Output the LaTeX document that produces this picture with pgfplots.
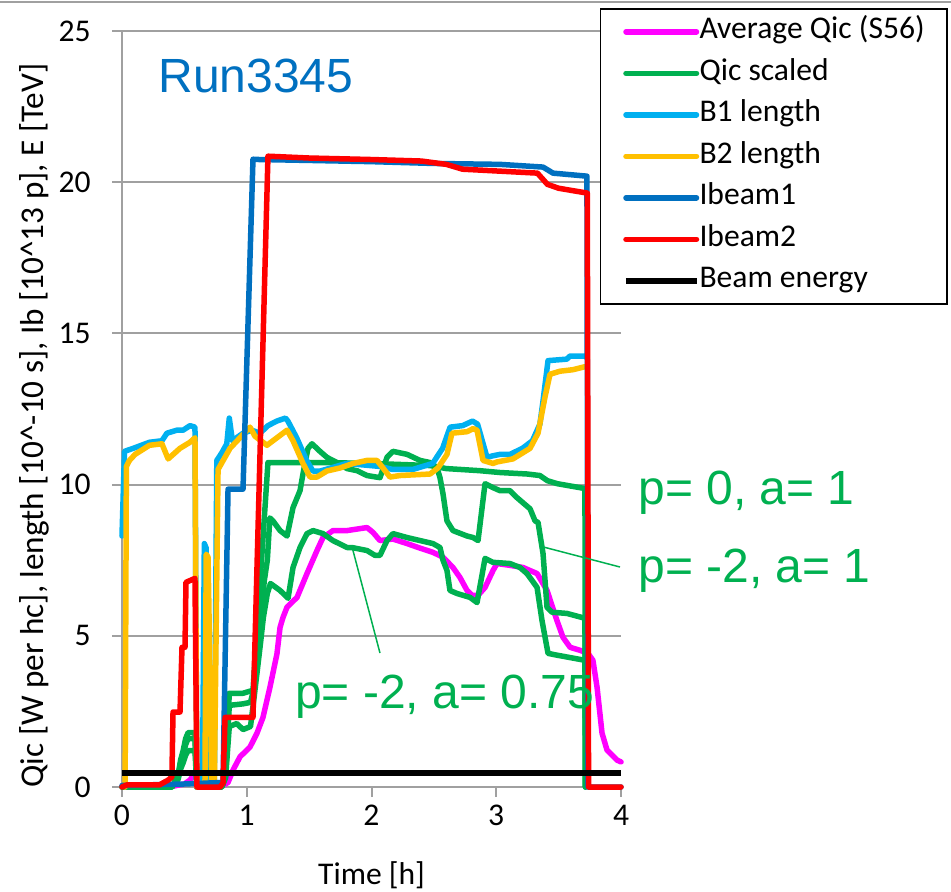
\documentclass[border=0pt]{standalone}
\usepackage{fontspec}
\setmainfont{Carlito}
\newfontfamily\arial{Liberation Sans}
\usepackage{pgfplots}
\pgfplotsset{compat=1.18}
\definecolor{cMag}{HTML}{FF00FF}
\definecolor{cGreen}{HTML}{00B050}
\definecolor{cLBlue}{HTML}{00B0F0}
\definecolor{cOrange}{HTML}{FFC000}
\definecolor{cDBlue}{HTML}{0070C0}
\definecolor{cRed}{HTML}{FF0000}
\definecolor{cGrid}{HTML}{A0A0A0}
\begin{document}
\fontsize{15.8}{19}\selectfont
\begin{tikzpicture}
\begin{axis}[
  at={(0,0)}, anchor=south west,
  scale only axis, width=249.5pt, height=378pt,
  xmin=0, xmax=4, ymin=0, ymax=25,
  axis x line*=bottom, axis y line*=left,
  axis line style={cGrid, line width=1pt},
  xtick={0,1,2,3,4}, ytick={0,5,10,15,20,25},
  tick align=outside, major tick length=5pt,
  tick style={cGrid, line width=1pt},
  ymajorgrids, grid style={cGrid, line width=1pt},
  /pgf/number format/assume math mode=true,
  yticklabel style={anchor=east, inner sep=0pt, xshift=-10.5pt},
  xticklabel style={anchor=north, inner sep=0pt, yshift=-4pt},
  xlabel={Time [h]},
  ylabel={Qic [W per hc], length [10\textasciicircum-10 s], Ib [10\textasciicircum13 p], E [TeV]},
  xlabel style={at={(axis description cs:0.5,0)}, anchor=base, yshift=-48.5pt, inner sep=0pt},
  ylabel style={at={(axis description cs:-0.1583,0.478)}, anchor=base, rotate=0, inner sep=0pt, font=\fontsize{16.6}{19}\selectfont},
  clip=false,
  every axis plot/.append style={line width=2.75pt, line join=round, line cap=round},
  legend style={at={(1.655,1.0304)}, anchor=north east, draw=black, line width=0.75pt,
    fill=white, inner xsep=11.25pt, inner ysep=4pt, row sep=5.75pt,
    nodes={inner sep=0pt, text height=11pt, text depth=4pt}},
  legend cell align=left,
  legend image code/.code={\path (0pt,0pt) -- (35.25pt,0pt);
    \draw[#1] (6.25pt,0pt) -- (32.75pt,0pt);},
]
% Average Qic (S56)
\addplot[cMag] coordinates {(0,0.02) (0.4,0.02) (0.5,0.1) (0.545,0.23) (0.6,0.55) (0.63,0.6) (0.66,0.3) (0.7,0.1) (0.82,0.08) (0.85,0.15) (0.89,0.56) (0.946,1.0) (1.026,1.32) (1.082,1.78) (1.13,2.3) (1.186,3.3) (1.242,4.4) (1.267,5.28) (1.29,5.6) (1.323,5.95) (1.403,6.27) (1.483,7.06) (1.563,7.82) (1.611,8.25) (1.691,8.48) (1.804,8.48) (1.964,8.58) (2.012,8.42) (2.068,8.15) (2.172,8.2) (2.285,8.05) (2.389,7.9) (2.493,7.76) (2.573,7.6) (2.653,7.26) (2.709,6.93) (2.766,6.5) (2.806,6.34) (2.854,6.34) (2.91,6.6) (2.974,7.16) (3.006,7.39) (3.11,7.33) (3.214,7.26) (3.327,7.06) (3.407,6.5) (3.487,5.5) (3.535,4.95) (3.592,4.62) (3.672,4.52) (3.735,4.42) (3.775,4.19) (3.808,3.3) (3.848,1.78) (3.888,1.22) (3.968,0.89) (4.0,0.83)};
\addlegendentry{Average Qic (S56)}
% Qic scaled p=0, a=1
\addplot[cGreen] coordinates {(0,0) (0.4,0) (0.45,0.4) (0.47,0.9) (0.49,1.2) (0.51,1.6) (0.53,1.8) (0.585,1.8) (0.6,0) (0.8,0) (0.83,0.4) (0.86,3.1) (0.97,3.1) (1.05,3.2) (1.17,10.73) (1.6,10.73) (2.0,10.7) (2.47,10.63) (2.6,10.53) (2.87,10.46) (3.03,10.4) (3.25,10.35) (3.35,10.3) (3.41,10.13) (3.49,10.03) (3.711,9.87) (3.715,0)};
\addlegendentry{Qic scaled}
% p=-2, a=1
\addplot[cGreen, forget plot] coordinates {(0,0) (0.4,0) (0.45,0.35) (0.47,0.8) (0.49,1.05) (0.51,1.4) (0.53,1.6) (0.585,1.6) (0.6,0) (0.8,0) (0.83,0.35) (0.86,2.7) (0.97,2.75) (1.03,2.8) (1.06,3.3) (1.1,5.0) (1.14,6.8) (1.165,7.5) (1.185,8.9) (1.21,8.8) (1.267,8.48) (1.323,8.3) (1.371,9.24) (1.427,9.8) (1.451,10.36) (1.491,11.2) (1.523,11.35) (1.587,11.1) (1.643,10.9) (1.723,10.73) (1.804,10.53) (1.884,10.46) (1.964,10.3) (2.068,10.23) (2.124,10.9) (2.172,11.1) (2.285,11.0) (2.389,10.8) (2.469,10.73) (2.525,10.56) (2.549,10.23) (2.573,9.7) (2.605,8.8) (2.653,8.48) (2.766,8.3) (2.814,8.25) (2.854,8.15) (2.91,10.03) (2.974,9.9) (3.03,9.8) (3.11,9.8) (3.166,9.57) (3.214,9.4) (3.271,9.2) (3.311,8.8) (3.335,8.75) (3.375,7.72) (3.407,5.94) (3.447,5.78) (3.567,5.74) (3.711,5.58) (3.715,0)};
% p=-2, a=0.75
\addplot[cGreen, forget plot] coordinates {(0,0) (0.4,0) (0.45,0.25) (0.47,0.6) (0.49,0.8) (0.51,1.05) (0.53,1.2) (0.585,1.2) (0.6,0) (0.8,0) (0.83,0.3) (0.86,2.0) (0.92,2.1) (0.97,1.9) (1.03,2.0) (1.06,3.0) (1.11,4.75) (1.133,5.6) (1.165,6.4) (1.19,6.73) (1.267,6.5) (1.331,6.24) (1.371,7.26) (1.427,7.92) (1.483,8.38) (1.531,8.48) (1.611,8.38) (1.691,8.15) (1.804,7.92) (1.844,7.92) (1.964,7.82) (2.028,7.66) (2.068,7.66) (2.124,8.15) (2.172,8.38) (2.285,8.25) (2.389,8.15) (2.493,8.05) (2.549,7.92) (2.573,7.5) (2.605,7.16) (2.629,6.5) (2.685,6.4) (2.79,6.27) (2.846,6.1) (2.91,7.56) (2.974,7.43) (3.11,7.39) (3.19,7.26) (3.246,7.06) (3.287,6.83) (3.327,6.6) (3.367,5.5) (3.415,4.42) (3.487,4.36) (3.711,4.19) (3.715,0)};
% B1 length
\addplot[cLBlue] coordinates {(0,8.3) (0.02,11.1) (0.09,11.2) (0.22,11.4) (0.32,11.45) (0.36,11.7) (0.44,11.8) (0.49,11.8) (0.545,11.95) (0.585,11.9) (0.6,0) (0.645,0) (0.66,8.05) (0.675,7.9) (0.69,0) (0.74,0) (0.76,10.8) (0.8,11.05) (0.84,11.35) (0.86,12.2) (0.885,11.45) (0.97,11.7) (1.04,11.8) (1.106,11.7) (1.17,11.95) (1.24,12.1) (1.31,12.2) (1.33,12.1) (1.40,11.55) (1.48,10.8) (1.53,10.45) (1.59,10.45) (1.80,10.7) (2.07,10.6) (2.17,10.5) (2.33,10.5) (2.49,10.7) (2.57,11.2) (2.63,11.9) (2.73,11.95) (2.81,12.1) (2.85,12.0) (2.926,10.9) (2.97,10.95) (3.03,11.0) (3.11,11.0) (3.21,11.2) (3.29,11.45) (3.35,12.0) (3.375,12.77) (3.415,14.1) (3.567,14.15) (3.59,14.25) (3.711,14.25)};
\addlegendentry{B1 length}
% B2 length
\addplot[cOrange] coordinates {(0.025,0) (0.035,10.6) (0.06,10.8) (0.105,11.0) (0.22,11.3) (0.32,11.35) (0.37,10.85) (0.465,11.2) (0.545,11.4) (0.585,11.55) (0.6,0) (0.665,0) (0.675,7.7) (0.69,7.6) (0.72,0) (0.74,0) (0.77,10.5) (0.866,11.2) (0.946,11.55) (1.026,11.9) (1.066,11.6) (1.162,11.3) (1.242,11.55) (1.323,11.8) (1.371,11.45) (1.451,10.7) (1.507,10.25) (1.563,10.25) (1.643,10.45) (1.748,10.55) (1.852,10.7) (1.964,10.8) (2.044,10.8) (2.092,10.55) (2.148,10.25) (2.228,10.3) (2.469,10.35) (2.533,10.55) (2.605,11.0) (2.645,11.7) (2.766,11.75) (2.814,11.85) (2.846,11.8) (2.894,10.8) (2.974,10.7) (3.006,10.75) (3.134,10.85) (3.271,11.2) (3.335,11.7) (3.391,12.9) (3.431,13.65) (3.511,13.75) (3.615,13.8) (3.711,13.9)};
\addlegendentry{B2 length}
% Ibeam1
\addplot[cDBlue] coordinates {(0,0.05) (0.5,0.1) (0.8,0.15) (0.81,0.2) (0.85,9.85) (0.97,9.85) (1.05,20.76) (1.1,20.75) (1.5,20.72) (2.0,20.68) (2.5,20.62) (3.03,20.59) (3.375,20.5) (3.455,20.3) (3.727,20.2) (3.735,0) (4,0)};
\addlegendentry{Ibeam1}
% Ibeam2
\addplot[cRed] coordinates {(0,0) (0.04,0.07) (0.3,0.07) (0.37,0.23) (0.40,0.33) (0.409,2.48) (0.465,2.48) (0.481,4.62) (0.505,4.62) (0.513,6.77) (0.585,6.9) (0.601,0) (0.786,0) (0.81,0.13) (0.826,2.3) (1.05,2.3) (1.17,20.86) (1.5,20.8) (2.0,20.75) (2.4,20.7) (2.6,20.59) (2.73,20.43) (2.87,20.4) (3.33,20.3) (3.41,19.93) (3.5,19.8) (3.73,19.64) (3.74,0) (4,0)};
\addlegendentry{Ibeam2}
% Beam energy
\addplot[black, line width=3pt, line cap=butt] coordinates {(0,0.45) (4,0.45)};
\addlegendentry{Beam energy}
% annotations
\node[anchor=base west, inner sep=0pt, text=cDBlue, font=\arial\fontsize{24}{28}\selectfont] at (axis cs:0.289,22.98) {Run3345};
\node[anchor=base west, inner sep=0pt, text=cGreen, font=\arial\fontsize{24}{28}\selectfont] at (axis cs:4.137,9.33) {p= 0, a= 1};
\node[anchor=base west, inner sep=0pt, text=cGreen, font=\arial\fontsize{24}{28}\selectfont] at (axis cs:4.137,6.75) {p= -2, a= 1};
\node[anchor=base west, inner sep=0pt, text=cGreen, font=\arial\fontsize{24}{28}\selectfont] at (axis cs:1.384,2.61) {p= -2, a= 0.75};
\draw[cGreen, line width=0.75pt] (axis cs:1.844,7.94) -- (axis cs:2.068,4.43);
\draw[cGreen, line width=0.75pt] (axis cs:3.375,7.94) -- (axis cs:3.992,7.275);
\end{axis}
\draw[cGrid, line width=1pt] (-61pt,392.5pt) -- (414.5pt,392.5pt);
\pgfresetboundingbox
\path[use as bounding box] (-61pt,-52pt) rectangle (414.5pt,393.5pt);
\end{tikzpicture}
\end{document}
